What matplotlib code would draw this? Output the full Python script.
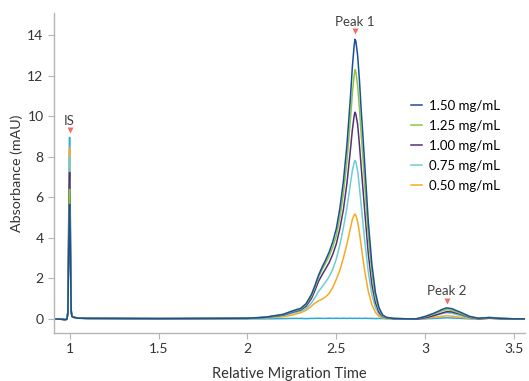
import matplotlib.pyplot as plt
import numpy as np

plt.rcParams['font.family'] = ['Lato', 'DejaVu Sans']

labels = ['1.50 mg/mL', '1.25 mg/mL', '1.00 mg/mL', '0.75 mg/mL', '0.50 mg/mL']
colors = ['#1b4f9c', '#8dc63f', '#55307f', '#6dcdd3', '#f9a825']
blank_color = '#2aa8e0'

# internal standard region
x_is = [0.912, 0.95, 0.975, 0.985, 0.99, 0.994, 0.998, 1.0, 1.002, 1.005, 1.009, 1.013, 1.02, 1.05, 1.1]
is_150 = [0.0, -0.02, -0.04, -0.02, 0.25, 2.5, 5.2, 5.65, 4.8, 2.55, 0.35, 0.12, 0.08, 0.03, 0.02]
is_125 = [0.0, -0.02, -0.04, -0.02, 0.28, 2.9, 5.9, 6.39, 5.4, 2.9, 0.38, 0.12, 0.08, 0.03, 0.02]
is_100 = [0.0, -0.02, -0.04, -0.02, 0.3, 3.25, 6.65, 7.23, 6.15, 3.25, 0.4, 0.12, 0.08, 0.03, 0.02]
is_075 = [0.0, -0.02, -0.04, -0.02, 0.32, 3.6, 7.35, 7.97, 6.8, 3.6, 0.42, 0.12, 0.08, 0.03, 0.02]
is_050 = [0.0, -0.02, -0.04, -0.02, 0.33, 3.8, 7.8, 8.46, 7.2, 3.8, 0.43, 0.12, 0.08, 0.03, 0.02]
is_blank = [0.0, -0.02, -0.04, -0.02, 0.35, 4.0, 8.25, 8.96, 7.6, 4.0, 0.45, 0.12, 0.08, 0.03, 0.02]

# main peak region
x_p1 = [1.5, 2.0, 2.1, 2.2, 2.25, 2.30, 2.33, 2.36, 2.38, 2.40, 2.42, 2.44, 2.46, 2.48, 2.50, 2.52,
        2.54, 2.56, 2.58, 2.59, 2.60, 2.605, 2.61, 2.62, 2.63, 2.64, 2.65, 2.66, 2.68, 2.70, 2.72,
        2.74, 2.76, 2.78, 2.82, 2.90]
p1_150 = [0.01, 0.03, 0.08, 0.22, 0.38, 0.52, 0.75, 1.2, 1.65, 2.15, 2.55, 2.9, 3.3, 3.8, 4.45, 5.45,
          6.8, 8.6, 11.0, 12.4, 13.45, 13.8, 13.7, 13.0, 11.8, 10.3, 9.0, 7.6, 4.8, 2.7, 1.3,
          0.55, 0.2, 0.08, 0.02, 0.0]
p1_125 = [0.01, 0.03, 0.08, 0.2, 0.35, 0.48, 0.7, 1.12, 1.55, 2.05, 2.42, 2.75, 3.1, 3.55, 4.1, 5.0,
          6.2, 7.8, 9.9, 11.1, 12.0, 12.3, 12.2, 11.5, 10.4, 9.1, 7.9, 6.6, 4.1, 2.25, 1.05,
          0.45, 0.15, 0.06, 0.02, 0.0]
p1_100 = [0.01, 0.02, 0.07, 0.18, 0.32, 0.44, 0.62, 1.0, 1.4, 1.85, 2.17, 2.47, 2.78, 3.18, 3.7, 4.45,
          5.4, 6.7, 8.4, 9.3, 10.0, 10.2, 10.1, 9.6, 8.6, 7.5, 6.4, 5.3, 3.2, 1.7, 0.8,
          0.32, 0.12, 0.05, 0.01, 0.0]
p1_075 = [0.01, 0.02, 0.06, 0.15, 0.27, 0.38, 0.5, 0.78, 1.05, 1.35, 1.58, 1.82, 2.08, 2.45, 2.95, 3.65,
          4.5, 5.5, 6.7, 7.3, 7.7, 7.82, 7.75, 7.3, 6.5, 5.6, 4.7, 3.85, 2.3, 1.2, 0.55,
          0.22, 0.08, 0.03, 0.01, 0.0]
p1_050 = [0.01, 0.01, 0.04, 0.1, 0.18, 0.3, 0.42, 0.62, 0.78, 0.88, 0.97, 1.08, 1.25, 1.55, 1.95, 2.4,
          3.0, 3.7, 4.5, 4.9, 5.12, 5.17, 5.1, 4.8, 4.25, 3.6, 2.95, 2.35, 1.35, 0.7, 0.32,
          0.12, 0.04, 0.01, 0.0, 0.0]
p1_blank = [0.01, 0.0, 0.0, 0.01, 0.02, 0.02, 0.01, 0.02, 0.02, 0.03, 0.02, 0.02, 0.03, 0.02, 0.03, 0.02,
            0.03, 0.02, 0.03, 0.02, 0.03, 0.02, 0.03, 0.02, 0.03, 0.02, 0.02, 0.03, 0.02, 0.02, 0.01,
            0.02, 0.01, 0.01, 0.0, 0.0]

# second peak region
x_p2 = [2.95, 3.00, 3.05, 3.10, 3.12, 3.15, 3.20, 3.25, 3.30, 3.36, 3.42, 3.50, 3.56]
p2_150 = [0.0, 0.12, 0.28, 0.48, 0.54, 0.5, 0.32, 0.12, 0.03, 0.06, 0.02, 0.0, 0.0]
p2_125 = [0.0, 0.1, 0.24, 0.41, 0.45, 0.42, 0.26, 0.09, 0.02, 0.05, 0.02, 0.0, 0.0]
p2_100 = [-0.02, 0.05, 0.16, 0.3, 0.35, 0.34, 0.22, 0.07, 0.0, 0.03, 0.01, 0.0, 0.0]
p2_075 = [0.0, 0.07, 0.17, 0.27, 0.3, 0.27, 0.16, 0.05, 0.02, 0.08, 0.03, 0.0, 0.0]
p2_050 = [-0.02, 0.03, 0.08, 0.13, 0.15, 0.13, 0.07, 0.02, 0.0, 0.02, 0.0, 0.0, 0.0]
p2_blank = [-0.02, 0.0, 0.02, 0.04, 0.05, 0.04, 0.02, 0.0, 0.0, 0.03, 0.01, 0.0, 0.0]

peak_names = ['IS', 'Peak 1', 'Peak 2']
peak_x = [1.0, 2.605, 3.12]
peak_marker_y = [9.3, 14.2, 0.9]

series = [
    (is_150, p1_150, p2_150),
    (is_125, p1_125, p2_125),
    (is_100, p1_100, p2_100),
    (is_075, p1_075, p2_075),
    (is_050, p1_050, p2_050),
]

x_all = np.concatenate([x_is, x_p1, x_p2])

fig = plt.figure(figsize=(5.29, 3.81), dpi=100)
ax = fig.add_axes([0.102, 0.126, 0.890, 0.840])

# blank first, then lowest to highest concentration so 1.50 sits on top
ax.plot(x_all, np.concatenate([is_blank, p1_blank, p2_blank]), color=blank_color, lw=1.1)
lines = []
for i in reversed(range(len(series))):
    y = np.concatenate(series[i])
    ln, = ax.plot(x_all, y, color=colors[i], lw=1.1, label=labels[i])
    lines.append(ln)
lines = lines[::-1]

for name, px, py in zip(peak_names, peak_x, peak_marker_y):
    ax.plot(px, py, marker='v', color='#f26c64', markersize=4, mec='none')
    ax.text(px, py + 0.18, name, ha='center', va='bottom', fontsize=9.5, color='#404040')

ax.legend(lines, labels, loc='upper left', bbox_to_anchor=(0.733, 0.765), frameon=False,
          fontsize=9.5, handlelength=0.85, handletextpad=0.5, labelspacing=0.6)

ax.set_xlim(0.912, 3.56)
ax.set_ylim(-0.7, 15.1)
ax.set_xticks([1, 1.5, 2, 2.5, 3, 3.5])
ax.set_xticklabels(['1', '1.5', '2', '2.5', '3', '3.5'])
ax.set_yticks(range(0, 15, 2))

for s in ['top', 'right']:
    ax.spines[s].set_visible(False)
for s in ['left', 'bottom']:
    ax.spines[s].set_color('#b5b5b5')
    ax.spines[s].set_linewidth(1.0)
ax.tick_params(colors='#b5b5b5', labelcolor='#333333', labelsize=10, length=4)

ax.set_xlabel('Relative Migration Time', fontsize=10.5, color='#333333', labelpad=8)
ax.set_ylabel('Absorbance (mAU)', fontsize=10.3, color='#333333', labelpad=3)

fig.savefig('out.png', dpi=100)
